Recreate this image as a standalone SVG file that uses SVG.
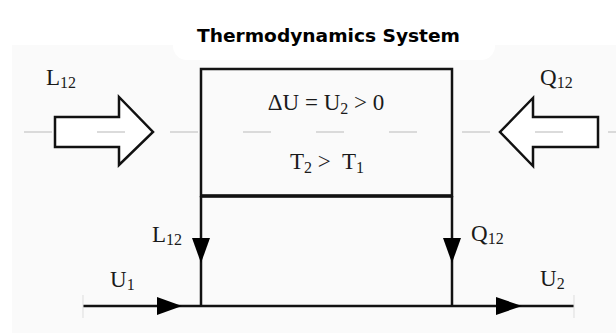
<svg xmlns="http://www.w3.org/2000/svg" width="616" height="335" viewBox="0 0 616 335">
<style>
.t{font-family:"Liberation Serif","Times New Roman",serif;font-size:23px;fill:#1a1a1a}
.s{font-size:16px}
.title{font-family:"DejaVu Sans",Verdana,sans-serif;font-weight:bold;font-size:17px;fill:#000}
.ln{stroke:#111;stroke-width:2.5;fill:none}
.blk{fill:#fff;stroke:#111;stroke-width:2.5;stroke-linejoin:miter}
.dash{stroke:#cfcfcf;stroke-width:1.5;stroke-dasharray:28 45}
.head{fill:#000}
</style>
<rect x="0" y="0" width="616" height="335" fill="#fff"/>
<rect x="12" y="45" width="604" height="288" fill="#fafafa"/>
<rect x="173" y="20" width="322" height="40" rx="14" fill="#fff"/>
<text class="title" x="328.5" y="42" text-anchor="middle" textLength="263" lengthAdjust="spacingAndGlyphs">Thermodynamics System</text>
<g id="left-arrow">
<path class="blk" d="M55,117 H119 V97 L153,132 L119,165 V147 H55 Z"/>
</g>
<g id="right-arrow">
<path class="blk" d="M598,117 H533 V98 L500,132 L533,166 V147 H598 Z"/>
</g>
<line class="dash" x1="24" y1="132" x2="616" y2="132"/>
<g id="system">
<rect x="201" y="69" width="251" height="127" fill="none" stroke="#111" stroke-width="2.5"/>
<line x1="201" y1="196" x2="452" y2="196" stroke="#111" stroke-width="3.5"/>
<text class="t" x="326" y="110" text-anchor="middle">ΔU = U<tspan class="s" dy="4">2</tspan><tspan dy="-4"> &gt; 0</tspan></text>
<text class="t" x="327" y="169" text-anchor="middle">T<tspan class="s" dy="4">2</tspan><tspan dy="-4"> &gt;&#160; T</tspan><tspan class="s" dy="4">1</tspan></text>
</g>
<g id="connectors">
<line class="ln" x1="201" y1="196" x2="201" y2="306"/>
<line class="ln" x1="452" y1="196" x2="452" y2="306"/>
<line class="ln" x1="83" y1="306" x2="574" y2="306"/>
<polygon class="head" points="192,238 210,238 201,263"/>
<polygon class="head" points="443,238 461,238 452,263"/>
<polygon class="head" points="157,297 157,315 182,306"/>
<polygon class="head" points="496,297 496,315 522,306"/>
<line x1="83" y1="295" x2="83" y2="318" stroke="#ddd" stroke-width="1"/>
<line x1="574" y1="295" x2="574" y2="318" stroke="#ddd" stroke-width="1"/>
</g>
<g id="labels">
<text class="t" x="46" y="85">L<tspan class="s" dy="3">12</tspan></text>
<text class="t" x="540" y="85">Q<tspan class="s" dy="3">12</tspan></text>
<text class="t" x="152" y="242">L<tspan class="s" dy="3">12</tspan></text>
<text class="t" x="471" y="241">Q<tspan class="s" dy="3">12</tspan></text>
<text class="t" x="110" y="287">U<tspan class="s" dy="3">1</tspan></text>
<text class="t" x="540" y="286">U<tspan class="s" dy="3">2</tspan></text>
</g>
</svg>
